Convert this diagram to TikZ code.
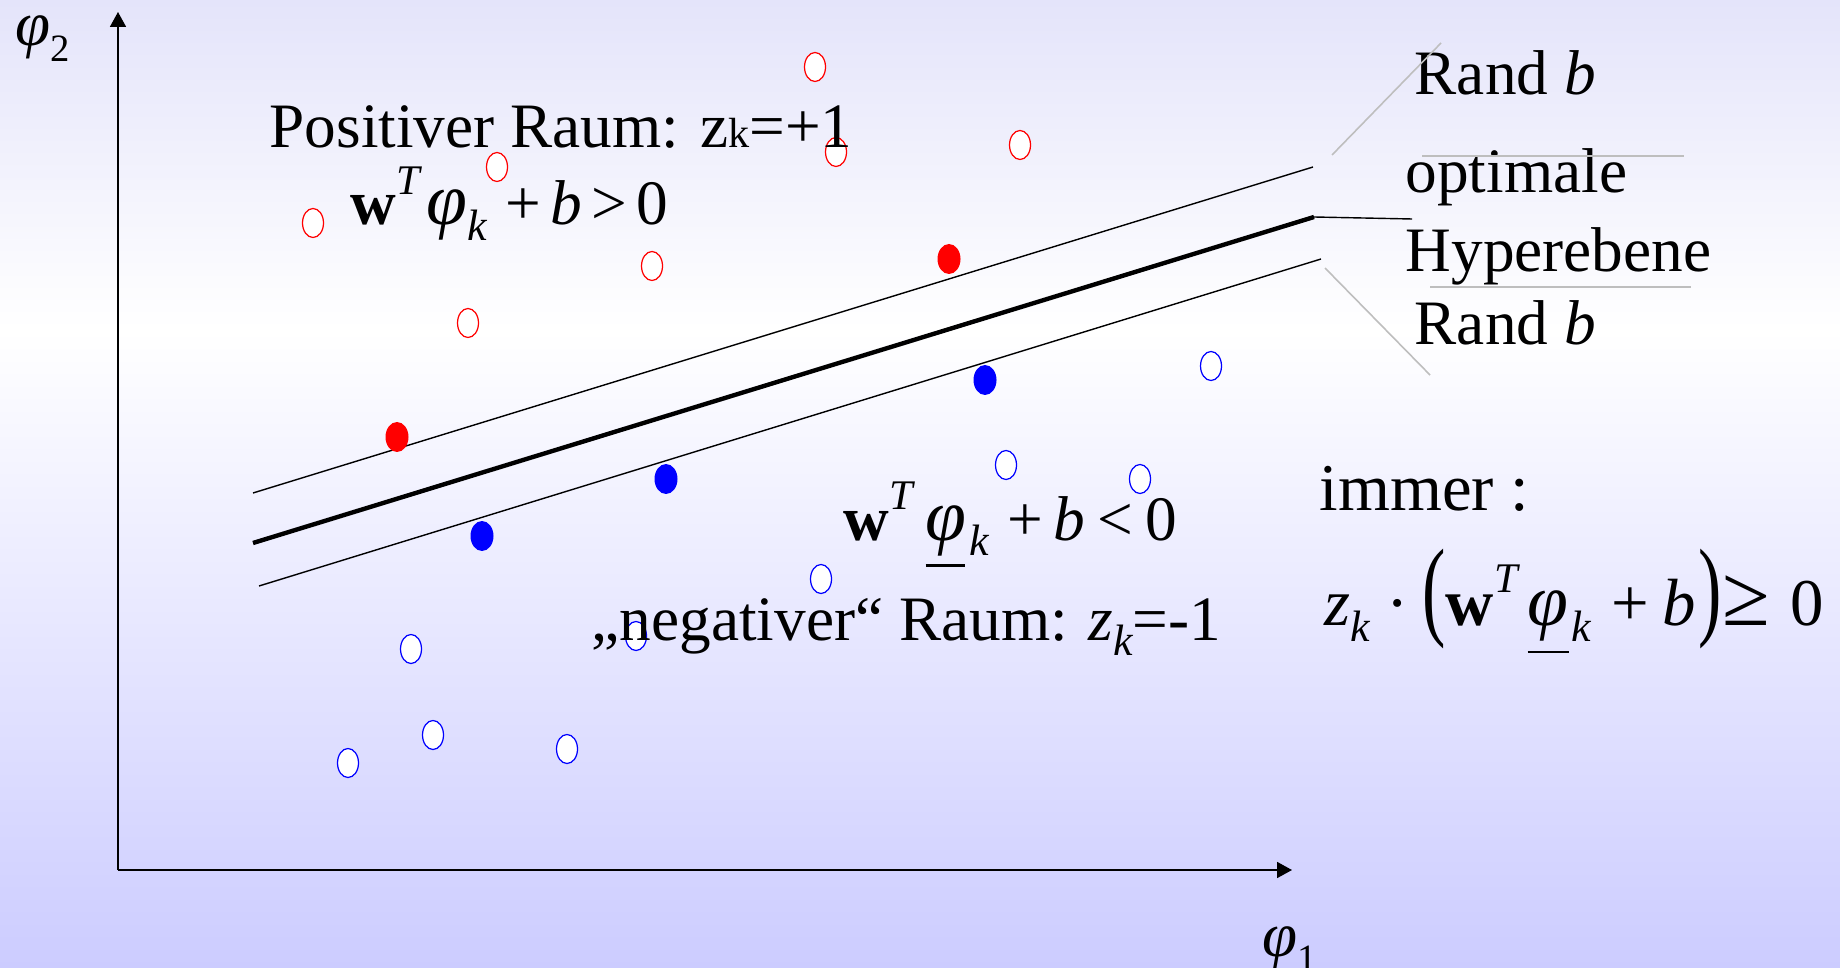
\documentclass[tikz,border=0pt]{standalone}
\usepackage{fontspec}
\setmainfont{Liberation Serif}
\usepackage{graphicx}
\usepackage{xcolor}
\usetikzlibrary{arrows.meta, positioning, shapes.geometric}

\definecolor{bgtop}{RGB}{228,228,250}
\definecolor{bgbot}{RGB}{204,204,255}
\definecolor{leadgray}{RGB}{190,190,190}

\newcommand{\supT}{\raisebox{0.48em}{\fontsize{12}{12}\selectfont\itshape T}}
\newcommand{\subk}{\raisebox{-0.24em}{\fontsize{12.5}{12.5}\selectfont\itshape k}}
\newcommand{\phib}{{\fontsize{21}{21}\selectfont\itshape φ}}
\newcommand{\uphi}{\rlap{\raisebox{-0.42em}{\rule{0.62em}{0.6pt}}}\phib}
\newcommand{\bigpar}[1]{\scalebox{1.05}[1.65]{#1}}

\begin{document}
\begin{tikzpicture}[
  txt/.style={font=\fontsize{18}{20}\selectfont, inner sep=0pt, anchor=base west},
  bigtxt/.style={font=\fontsize{19}{21}\selectfont, inner sep=0pt, anchor=base west},
  posopen/.style={ellipse, draw=red, line width=0.35pt, fill=white, minimum width=0.21cm, minimum height=0.29cm, inner sep=0pt},
  negopen/.style={ellipse, draw=blue, line width=0.35pt, fill=white, minimum width=0.21cm, minimum height=0.29cm, inner sep=0pt},
  posfill/.style={ellipse, fill=red, minimum width=0.23cm, minimum height=0.30cm, inner sep=0pt},
  negfill/.style={ellipse, fill=blue, minimum width=0.23cm, minimum height=0.30cm, inner sep=0pt},
  axis/.style={line width=0.5pt, -{Triangle[length=0.15cm, width=0.16cm]}},
  margin/.style={line width=0.4pt},
  hyper/.style={line width=1.25pt},
  leader/.style={line width=0.45pt, draw=leadgray}
]
% background
\shade[top color=bgtop, bottom color=white] (0,0) rectangle (18.4,-3.3);
\shade[top color=white, bottom color=bgbot] (0,-3.3) rectangle (18.4,-9.68);
\useasboundingbox (0,0) rectangle (18.4,-9.68);
% axes
\coordinate (orig) at (1.18,-8.70);
\coordinate (ytop) at (1.18,-0.12);
\coordinate (xend) at (12.92,-8.70);
\draw[axis] (orig) -- (ytop);
\draw[axis] (orig) -- (xend);
\node[txt] (phitwo) at (0.15,-0.46) {\itshape φ\raisebox{-0.25em}{\fontsize{11}{11}\selectfont\upshape 2}};
\node[txt] (phione) at (12.62,-9.56) {\itshape φ\raisebox{-0.25em}{\fontsize{11}{11}\selectfont\upshape 1}};
% hyperplane and margins
\coordinate (upL) at (2.53,-4.93);
\coordinate (upR) at (13.13,-1.67);
\coordinate (hyL) at (2.53,-5.43);
\coordinate (hyR) at (13.14,-2.17);
\coordinate (loL) at (2.59,-5.86);
\coordinate (loR) at (13.21,-2.59);
\draw[margin] (upL) -- (upR);
\draw[hyper] (hyL) -- (hyR);
\draw[margin] (loL) -- (loR);
% data points
\node[posopen] (p1) at (8.15,-0.67) {};
\node[posopen] (p2) at (8.36,-1.52) {};
\node[posopen] (p3) at (10.20,-1.45) {};
\node[posopen] (p4) at (4.97,-1.67) {};
\node[posopen] (p5) at (3.13,-2.23) {};
\node[posopen] (p6) at (6.52,-2.66) {};
\node[posopen] (p7) at (4.68,-3.23) {};
\node[posfill] (s1) at (9.49,-2.59) {};
\node[posfill] (s2) at (3.97,-4.37) {};
\node[negfill] (s3) at (9.85,-3.80) {};
\node[negfill] (s4) at (6.66,-4.79) {};
\node[negfill] (s5) at (4.82,-5.36) {};
\node[negopen] (n1) at (12.11,-3.66) {};
\node[negopen] (n2) at (10.06,-4.65) {};
\node[negopen] (n3) at (11.40,-4.79) {};
\node[negopen] (n4) at (8.21,-5.79) {};
\node[negopen] (n5) at (4.11,-6.49) {};
\node[negopen] (n6) at (6.36,-6.36) {};
\node[negopen] (n7) at (4.33,-7.35) {};
\node[negopen] (n8) at (5.67,-7.49) {};
\node[negopen] (n9) at (3.48,-7.63) {};
% region texts
\node[txt] (pos) at (2.69,-1.48) {Positiver Raum: z{\fontsize{12}{12}\selectfont k}=+1};
\node[txt] (posf) at (3.50,-2.25) {\textbf{w}\supT\hspace{0.1em}\phib\subk\hspace{0.3em}+\hspace{0.15em}{\itshape b}\hspace{0.15em}>\hspace{0.15em}0};
\node[txt] (negf) at (8.43,-5.40) {\textbf{w}\supT\hspace{0.2em}\uphi\hspace{0.05em}\subk\hspace{0.3em}+\hspace{0.15em}{\itshape b}\hspace{0.2em}<\hspace{0.2em}0};
\node[txt] (neg) at (5.91,-6.40) {„negativer“ Raum: {\itshape z}\subk=-1};
% labels right
\node[txt] (rand1) at (14.14,-0.95) {Rand {\itshape b}};
\node[txt] (opt) at (14.05,-1.93) {optimale};
\node[txt] (hyp) at (14.05,-2.72) {Hyperebene};
\node[txt] (rand2) at (14.14,-3.45) {Rand {\itshape b}};
\coordinate (ldr) at (14.12,-2.19);
\coordinate (g1a) at (13.32,-1.55);
\coordinate (g1b) at (14.41,-0.43);
\coordinate (g2a) at (13.25,-2.68);
\coordinate (g2b) at (14.30,-3.75);
\coordinate (h1a) at (14.22,-1.56);
\coordinate (h1b) at (16.84,-1.56);
\coordinate (h2a) at (14.30,-2.87);
\coordinate (h2b) at (16.91,-2.87);
\draw[margin] (hyR) -- (ldr);
\draw[leader] (g1a) -- (g1b);
\draw[leader] (g2a) -- (g2b);
\draw[leader] (h1a) -- (h1b);
\draw[leader] (h2a) -- (h2b);
% condition
\node[bigtxt] (imm) at (13.19,-5.10) {immer :};
\node[bigtxt] (immf) at (13.24,-6.25) {{\itshape z}\subk\hspace{0.25em}·\hspace{0.2em}\bigpar{(}\textbf{w}\supT\hspace{0.15em}\uphi\hspace{0.05em}\subk\hspace{0.3em}+\hspace{0.2em}{\itshape b}\hspace{0.05em}\bigpar{)}\scalebox{1.3}{≥}\hspace{0.3em}0};
\end{tikzpicture}
\end{document}
